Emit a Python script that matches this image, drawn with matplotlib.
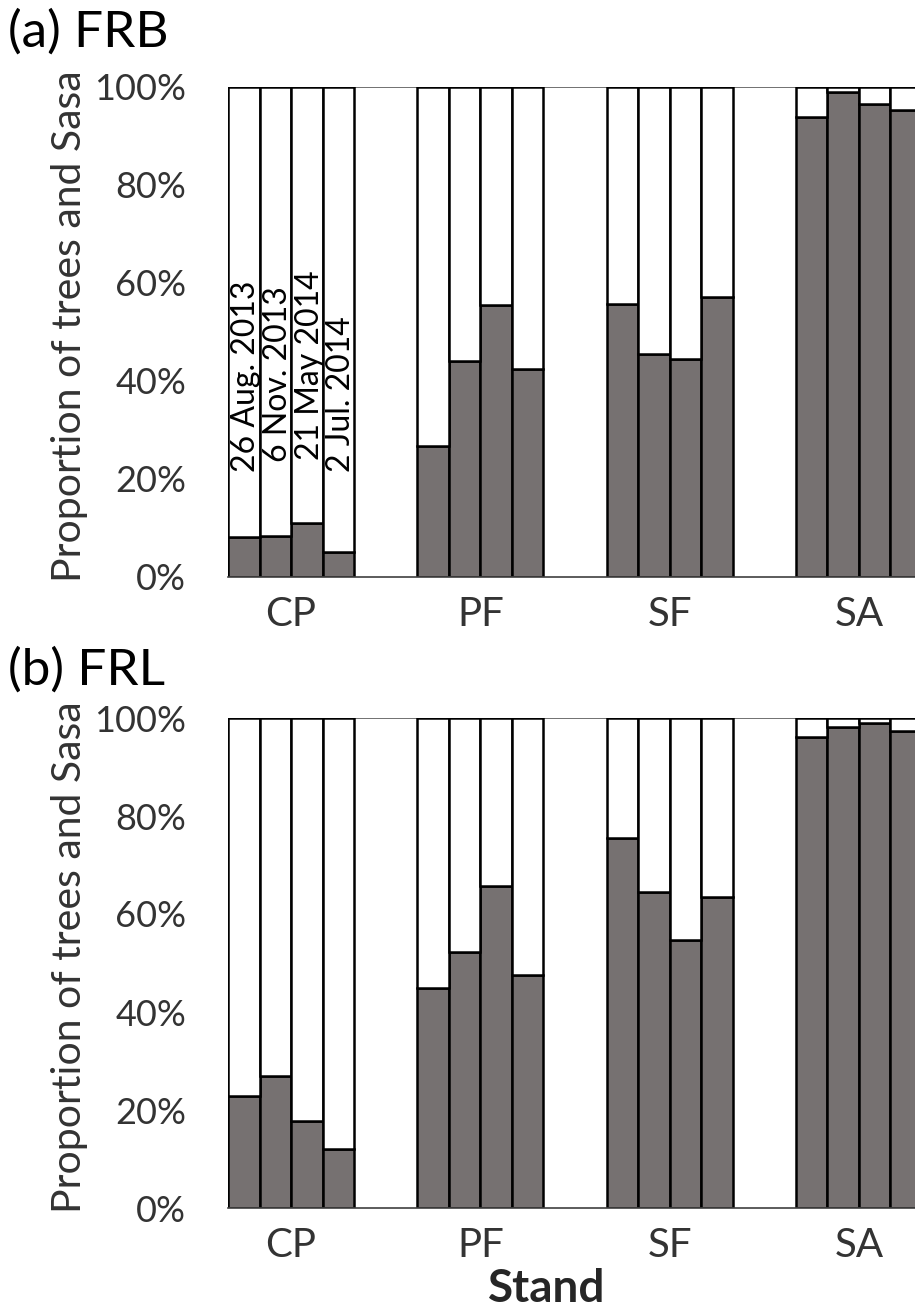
import matplotlib
matplotlib.use("Agg")
import matplotlib.pyplot as plt
import numpy as np

plt.rcParams['font.family'] = ['Lato', 'DejaVu Sans']

# Stands and survey dates
stands = ['CP', 'PF', 'SF', 'SA']
dates = ['26 Aug. 2013', '6 Nov. 2013', '21 May 2014', '2 Jul. 2014']

# Share of Sasa (%) per stand, one value per survey date
frb_sasa = {
    'CP': [8.2, 8.4, 11.0, 5.2],
    'PF': [26.7, 44.1, 55.6, 42.4],
    'SF': [55.7, 45.6, 44.4, 57.2],
    'SA': [93.8, 99.0, 96.5, 95.3],
}
frl_sasa = {
    'CP': [22.8, 26.9, 17.8, 12.0],
    'PF': [44.9, 52.2, 65.7, 47.6],
    'SF': [75.5, 64.4, 54.6, 63.5],
    'SA': [96.1, 98.1, 98.9, 97.3],
}

panels = [('(a) FRB', frb_sasa), ('(b) FRL', frl_sasa)]

W, H = 915, 1308
fig = plt.figure(figsize=(W / 100, H / 100), dpi=100)

GREY = '#767171'
TXT = '#333333'
n_dates = len(dates)
slots_per_group = n_dates + 2  # two empty slots between stands

# axes placement in pixels (left, right, top, bottom)
ax_left, ax_right = 228, 922
ax_boxes = [(87, 577), (718, 1208)]
title_baselines = [47, 685]

for (title, data), (top, bottom), tb in zip(panels, ax_boxes, title_baselines):
    ax = fig.add_axes([ax_left / W, 1 - bottom / H,
                       (ax_right - ax_left) / W, (bottom - top) / H])
    centers = []
    for gi, stand in enumerate(stands):
        x = gi * slots_per_group + np.arange(n_dates)
        sasa = np.array(data[stand])
        trees = 100 - sasa
        ax.bar(x, sasa / 100, width=1.0, color=GREY, edgecolor='black',
               linewidth=1.8, zorder=2)
        ax.bar(x, trees / 100, bottom=sasa / 100, width=1.0, color='white',
               edgecolor='black', linewidth=1.8, zorder=2)
        centers.append(x.mean())

    ax.set_xlim(-0.5, (len(stands) - 1) * slots_per_group + n_dates - 0.5)
    ax.set_ylim(0, 1)
    ax.axhline(1.0, color='#595959', lw=1.2, zorder=1)
    for s in ['left', 'right', 'top']:
        ax.spines[s].set_visible(False)
    ax.spines['bottom'].set_color('#404040')
    ax.spines['bottom'].set_linewidth(1.2)
    ax.spines['bottom'].set_zorder(3)

    ax.set_yticks(np.linspace(0, 1, 6))
    ax.set_yticklabels([f'{int(v)}%' for v in np.linspace(0, 100, 6)])
    ax.tick_params(axis='y', length=0, pad=30, labelsize=26, labelcolor=TXT)
    ax.set_xticks(centers)
    ax.set_xticklabels(stands)
    ax.tick_params(axis='x', length=0, pad=14, labelsize=29, labelcolor=TXT)

    label_center = top + 239
    ax.text((70 - ax_left) / (ax_right - ax_left),
            (bottom - label_center) / (bottom - top),
            'Proportion of trees and Sasa', rotation=90, ha='center',
            va='center', fontsize=29.5, color=TXT, transform=ax.transAxes)

    fig.text(8 / W, 1 - tb / H, title, fontsize=37, color='black',
             ha='left', va='baseline')

    if title.startswith('(a)'):
        # survey dates written inside the CP bars
        starts = [21.4, 23.5, 23.9, 21.4]
        for i, (d, y0) in enumerate(zip(dates, starts)):
            ax.text(i + 0.37, y0 / 100, d, rotation=90, rotation_mode='anchor',
                    ha='left', va='baseline', fontsize=23, color='black',
                    zorder=4)

fig.text(547 / W, 1 - 1302 / H, 'Stand', fontsize=33, fontweight='bold',
         color='#262626', ha='center', va='baseline')

fig.savefig('out.png', dpi=100)
